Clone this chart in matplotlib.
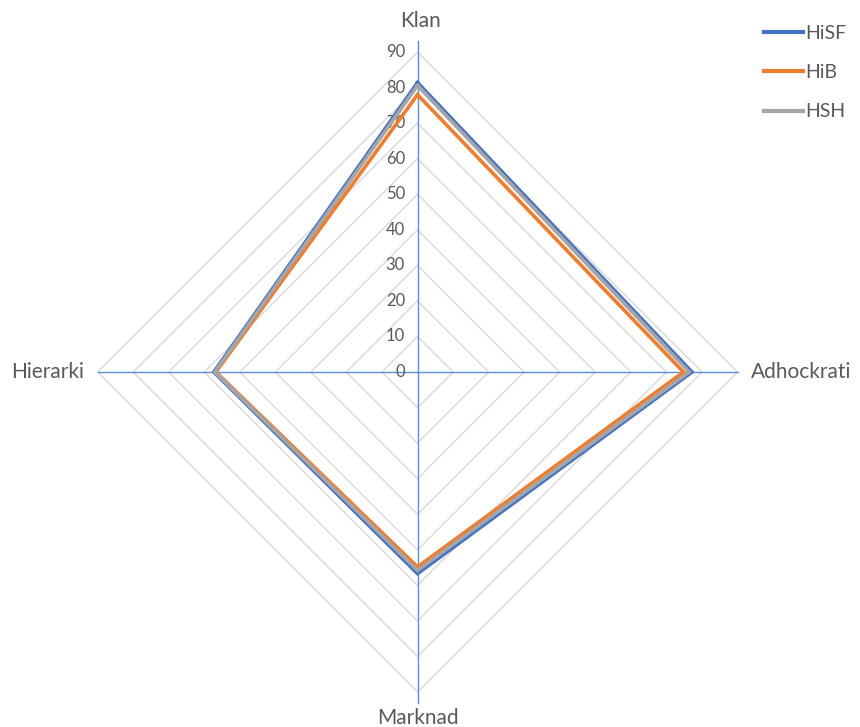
import numpy as np
import matplotlib
matplotlib.use("Agg")
import matplotlib.pyplot as plt

# Kategorier (medurs från toppen) och värden per serie.
kategorier = ["Klan", "Adhockrati", "Marknad", "Hierarki"]
hisf = [81.4, 77.2, 56.7, 57.3]
hib = [78.0, 74.8, 54.8, 56.7]
hsh = [80.6, 76.4, 55.8, 57.0]
serier = ["HiSF", "HiB", "HSH"]
skala = [0, 10, 20, 30, 40, 50, 60, 70, 80, 90]

farger = ["#4472C4", "#ED7D31", "#A5A5A5"]
plt.rcParams["font.family"] = ["Lato", "DejaVu Sans"]

fig = plt.figure(figsize=(8.6, 7.27), dpi=100)
ax = fig.add_axes([0.1134, 0.0481, 0.7442, 0.8803], projection="polar")
ax.set_theta_offset(np.pi / 2)
ax.set_theta_direction(-1)
ax.set_ylim(0, 90)
ax.grid(False)
ax.spines["polar"].set_visible(False)
ax.set_xticks([])
ax.set_yticks([])

vinklar = np.linspace(0, 2 * np.pi, len(kategorier), endpoint=False)
slutna = np.append(vinklar, vinklar[0])

# Rutnät (romber).
for r in skala[1:]:
    ax.plot(slutna, [r] * len(slutna), color="#D9D9D9", lw=1.0, zorder=1)

# Axellinjer (den lodräta sticker ut lite, som i Excel).
for v, ut in zip(vinklar, [93, 90, 93, 90]):
    ax.plot([v, v], [0, ut], color="#5B8FD6", lw=1.0, zorder=2, clip_on=False)

# Skaltal längs den övre axeln.
for r in skala:
    ax.annotate(str(r), xy=(0, r), xytext=(-9, 0), textcoords="offset points",
                ha="right", va="center", fontsize=12, color="#595959")

# Kategorietiketter.
ax.annotate(kategorier[0], xy=(vinklar[0], 90), xytext=(2, 22), textcoords="offset points",
            ha="center", va="center", fontsize=15, color="#595959", annotation_clip=False)
ax.annotate(kategorier[1], xy=(vinklar[1], 90), xytext=(10, 0), textcoords="offset points",
            ha="left", va="center", fontsize=15, color="#595959", annotation_clip=False)
ax.annotate(kategorier[2], xy=(vinklar[2], 90), xytext=(0, -19), textcoords="offset points",
            ha="center", va="center", fontsize=15, color="#595959", annotation_clip=False)
ax.annotate(kategorier[3], xy=(vinklar[3], 90), xytext=(-10, 0), textcoords="offset points",
            ha="right", va="center", fontsize=15, color="#595959", annotation_clip=False)

# Serier.
for namn, varden, farg in zip(serier, [hisf, hib, hsh], farger):
    ax.plot(slutna, varden + varden[:1], color=farg, lw=2.6, label=namn,
            zorder=3, solid_joinstyle="miter")

leg = fig.legend(loc="upper right", bbox_to_anchor=(1.005, 0.99), frameon=False,
                 fontsize=14, handlelength=2.0, handletextpad=0.15, labelspacing=1.15,
                 labelcolor="#595959")
for linje in leg.get_lines():
    linje.set_linewidth(3.0)

fig.savefig("out.png", dpi=100)
